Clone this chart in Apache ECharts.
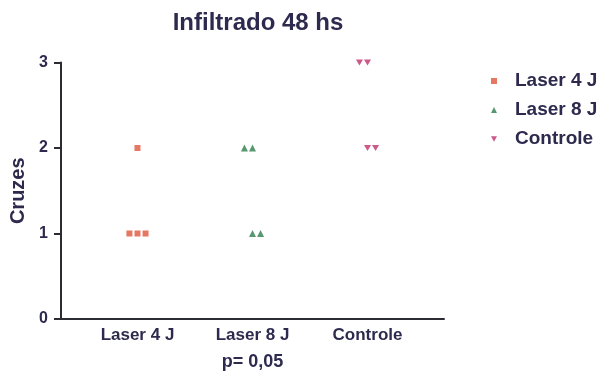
<!DOCTYPE html>
<html>
<head>
<meta charset="utf-8">
<script src="https://cdn.jsdelivr.net/npm/echarts@6/dist/echarts.min.js"></script>
<style>
  html, body { margin: 0; padding: 0; background: #ffffff; }
  #chart { width: 610px; height: 377px; }
</style>
</head>
<body>
<div id="chart"></div>
<script>
// Groups shown along the x axis
const categories = ['Laser 4 J', 'Laser 8 J', 'Controle'];
// Score ("Cruzes") of each animal in each group
const laser4J = [1, 1, 1, 2];
const laser8J = [2, 2, 1, 1];
const controle = [3, 3, 2, 2];
// Y-axis ticks
const yTicks = [0, 1, 2, 3];

const INK = '#2d2a4e';
const AXIS = '#2b2b33';
const FONT = '"Liberation Sans", Arial, sans-serif';
const JITTER = 0.07; // horizontal spread for tied values, in category units

// Column scatter: tied values sit side by side; even-sized ties are nudged
// half a step, alternately to the left and to the right.
function columnScatter(values, groupIndex) {
  const counts = {};
  const order = [];
  values.forEach(v => {
    if (!(v in counts)) { counts[v] = 0; order.push(v); }
    counts[v] += 1;
  });
  const nudge = {};
  let side = -1;
  order.forEach(v => {
    nudge[v] = 0;
    if (counts[v] % 2 === 0) { nudge[v] = side * 0.5; side = -side; }
  });
  const seen = {};
  return values.map(v => {
    const k = seen[v] || 0;
    seen[v] = k + 1;
    const off = (k - (counts[v] - 1) / 2 + nudge[v]) * JITTER;
    return [groupIndex + off, v];
  });
}

const invTriangle = 'path://M0,0 L10,0 L5,9 Z';

const chart = echarts.init(document.getElementById('chart'), null, { renderer: 'canvas' });
chart.setOption({
  backgroundColor: '#ffffff',
  animation: false,
  title: {
    text: 'Infiltrado 48 hs',
    left: 253, top: 6, textAlign: 'center',
    textStyle: { fontFamily: FONT, fontWeight: 'bold', fontSize: 24, color: INK }
  },
  legend: {
    orient: 'vertical',
    left: 486, top: 66,
    itemWidth: 6, itemHeight: 6,
    itemGap: 9,
    textStyle: { fontFamily: FONT, fontWeight: 'bold', fontSize: 19, color: INK, lineHeight: 20, padding: [0, 0, 0, 13] },
    data: [
      { name: 'Laser 4 J', icon: 'rect' },
      { name: 'Laser 8 J', icon: 'triangle' },
      { name: 'Controle', icon: invTriangle }
    ]
  },
  grid: { left: 61, right: 166, top: 62.5, bottom: 58, containLabel: false },
  xAxis: {
    type: 'value',
    min: -0.665, max: 2.665,
    splitLine: { show: false },
    axisLine: { show: true, onZero: false, lineStyle: { color: AXIS, width: 2 } },
    axisTick: { show: false },
    axisLabel: {
      customValues: [0, 1, 2],
      formatter: v => categories[Math.round(v)] || '',
      fontFamily: FONT, fontWeight: 'bold', fontSize: 17, color: INK, margin: 8
    }
  },
  yAxis: {
    type: 'value',
    name: 'Cruzes',
    nameLocation: 'middle',
    nameGap: 27,
    nameRotate: 90,
    nameTextStyle: { fontFamily: FONT, fontWeight: 'bold', fontSize: 20, color: INK },
    min: yTicks[0], max: yTicks[yTicks.length - 1], interval: 1,
    splitLine: { show: false },
    axisLine: { show: true, onZero: false, lineStyle: { color: AXIS, width: 2 } },
    axisTick: { show: true, length: 7, lineStyle: { color: AXIS, width: 2 } },
    axisLabel: { fontFamily: FONT, fontWeight: 'bold', fontSize: 16, color: INK, margin: 13 }
  },
  graphic: [{
    type: 'text',
    x: 252.5, y: 362,
    style: {
      text: 'p= 0,05', align: 'center', verticalAlign: 'middle',
      fontFamily: FONT, fontWeight: 'bold', fontSize: 18, fill: INK
    }
  }],
  series: [
    {
      name: 'Laser 4 J', type: 'scatter', symbol: 'rect', symbolSize: 6,
      itemStyle: { color: '#e0553b' },
      data: columnScatter(laser4J, 0)
    },
    {
      name: 'Laser 8 J', type: 'scatter', symbol: 'triangle', symbolSize: 7,
      itemStyle: { color: '#2f7d4c' },
      data: columnScatter(laser8J, 1)
    },
    {
      name: 'Controle', type: 'scatter', symbol: invTriangle, symbolSize: [7, 6],
      itemStyle: { color: '#c2306c' },
      data: columnScatter(controle, 2)
    }
  ]
});
</script>
</body>
</html>
